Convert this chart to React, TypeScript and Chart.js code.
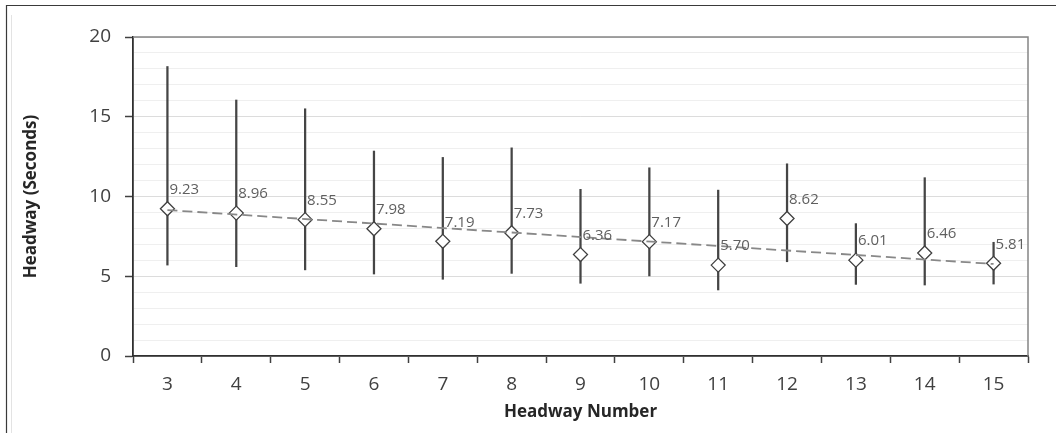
import React, { useEffect, useRef } from 'react';
import { Chart, registerables } from 'chart.js';

Chart.register(...registerables);

const categories = ['3', '4', '5', '6', '7', '8', '9', '10', '11', '12', '13', '14', '15'];
const means = [9.23, 8.96, 8.55, 7.98, 7.19, 7.73, 6.36, 7.17, 5.7, 8.62, 6.01, 6.46, 5.81];
const upper = [18.15, 16.05, 15.5, 12.85, 12.45, 13.05, 10.45, 11.8, 10.4, 12.05, 8.3, 11.18, 7.13];
const lower = [5.7, 5.6, 5.4, 5.14, 4.81, 5.18, 4.56, 5.02, 4.14, 5.91, 4.49, 4.45, 4.51];
const trendEnds = [9.15, 5.77];
const yMin = 0;
const yMax = 20;
const yMajorStep = 5;
const yMinorStep = 1;

const FONT = '"Open Sans", "Liberation Sans", Arial, sans-serif';

const labelPlugin = {
  id: 'valueLabels',
  afterDatasetsDraw(chart: any) {
    const meta = chart.getDatasetMeta(1);
    const ctx = chart.ctx;
    ctx.save();
    ctx.font = `15px ${FONT}`;
    ctx.fillStyle = '#5f5f5f';
    ctx.textAlign = 'left';
    ctx.textBaseline = 'middle';
    meta.data.forEach((pt: any, i: number) => {
      ctx.fillText(means[i].toFixed(2), pt.x + 2, pt.y - 19);
    });
    ctx.restore();
  },
};

const framePlugin = {
  id: 'frame',
  beforeDraw(chart: any) {
    const { ctx, width, height } = chart;
    ctx.save();
    ctx.fillStyle = '#ffffff';
    ctx.fillRect(0, 0, width, height);
    ctx.restore();
  },
  afterDraw(chart: any) {
    const { ctx, width, height, chartArea } = chart;
    ctx.save();
    ctx.strokeStyle = '#3a3a3a';
    ctx.lineWidth = 1.2;
    ctx.beginPath();
    ctx.moveTo(6, 5.5);
    ctx.lineTo(width, 5.5);
    ctx.moveTo(6.5, 5);
    ctx.lineTo(6.5, height);
    ctx.stroke();
    ctx.strokeStyle = '#e3e3e3';
    ctx.lineWidth = 1;
    ctx.beginPath();
    ctx.moveTo(11.5, 15);
    ctx.lineTo(11.5, height);
    ctx.stroke();
    ctx.strokeStyle = '#858585';
    ctx.lineWidth = 1.5;
    ctx.beginPath();
    ctx.moveTo(chartArea.left, chartArea.top);
    ctx.lineTo(chartArea.right, chartArea.top);
    ctx.lineTo(chartArea.right, chartArea.bottom);
    ctx.stroke();
    ctx.restore();
  },
};

export default function App() {
  const canvasRef = useRef<HTMLCanvasElement | null>(null);

  useEffect(() => {
    const canvas = canvasRef.current;
    if (!canvas) return;
    const errorBars = upper.map((u, i) => [lower[i], u]);
    const trend = categories.map((_, i) =>
      i === 0 ? trendEnds[0] : i === categories.length - 1 ? trendEnds[1] : null
    );
    const chart = new Chart(canvas, {
      type: 'bar',
      data: {
        labels: categories,
        datasets: [
          {
            type: 'line',
            label: 'Trend',
            data: trend as any,
            borderColor: '#888888',
            borderWidth: 1.8,
            borderDash: [10, 5],
            pointRadius: 0,
            spanGaps: true,
            order: 0,
          } as any,
          {
            type: 'line',
            label: 'Mean',
            data: means,
            showLine: false,
            pointStyle: 'rectRot',
            pointRadius: 7,
            pointBorderWidth: 1.3,
            pointBorderColor: '#404040',
            pointBackgroundColor: '#ffffff',
            order: 1,
          } as any,
          {
            type: 'bar',
            label: 'Range',
            data: errorBars as any,
            backgroundColor: '#454545',
            barThickness: 1.6,
            order: 2,
          } as any,
        ],
      },
      options: {
        responsive: false,
        animation: false,
        devicePixelRatio: 1,
        layout: { padding: { left: 0, top: 37, right: 28, bottom: 0 } },
        plugins: {
          legend: { display: false },
          tooltip: { enabled: false },
        },
        scales: {
          x: {
            offset: true,
            grid: {
              offset: true,
              drawOnChartArea: false,
              drawTicks: true,
              tickLength: 7,
              tickColor: '#404040',
              tickWidth: 1.5,
            },
            border: { display: true, color: '#303030', width: 1.8 },
            ticks: {
              color: '#404040',
              font: { family: FONT, size: 19 },
              padding: 10,
              maxRotation: 0,
            },
            title: {
              display: true,
              text: 'Headway Number',
              color: '#262626',
              font: { family: FONT, size: 17, weight: 'bold' },
              padding: { top: 0, bottom: 11 },
            },
            afterFit(scale: any) {
              scale.height = 77;
            },
          },
          y: {
            min: yMin,
            max: yMax,
            grid: {
              drawOnChartArea: true,
              drawTicks: true,
              tickLength: 8,
              color: (c: any) =>
                c.tick && c.tick.value % yMajorStep === 0 ? '#dcdcdc' : '#efefef',
              tickColor: (c: any) =>
                c.tick && c.tick.value % yMajorStep === 0 ? '#404040' : 'rgba(0,0,0,0)',
              tickWidth: 1.5,
            },
            border: { display: true, color: '#303030', width: 1.8 },
            ticks: {
              stepSize: yMinorStep,
              autoSkip: false,
              color: '#404040',
              font: { family: FONT, size: 19 },
              padding: 14,
              callback: (v: any) => (Number(v) % yMajorStep === 0 ? String(v) : ''),
            },
            title: {
              display: true,
              text: 'Headway (Seconds)',
              color: '#262626',
              font: { family: FONT, size: 17, weight: 'bold' },
              padding: { top: 21, bottom: 0 },
            },
            afterFit(scale: any) {
              scale.width = 133;
            },
          },
        },
      } as any,
      plugins: [framePlugin, labelPlugin],
    });
    return () => chart.destroy();
  }, []);

  return (
    <div style={{ position: 'fixed', left: 0, top: 0, width: 1056, height: 433, background: '#fff' }}>
      <canvas ref={canvasRef} width={1056} height={433} style={{ width: 1056, height: 433, display: 'block' }} />
    </div>
  );
}
